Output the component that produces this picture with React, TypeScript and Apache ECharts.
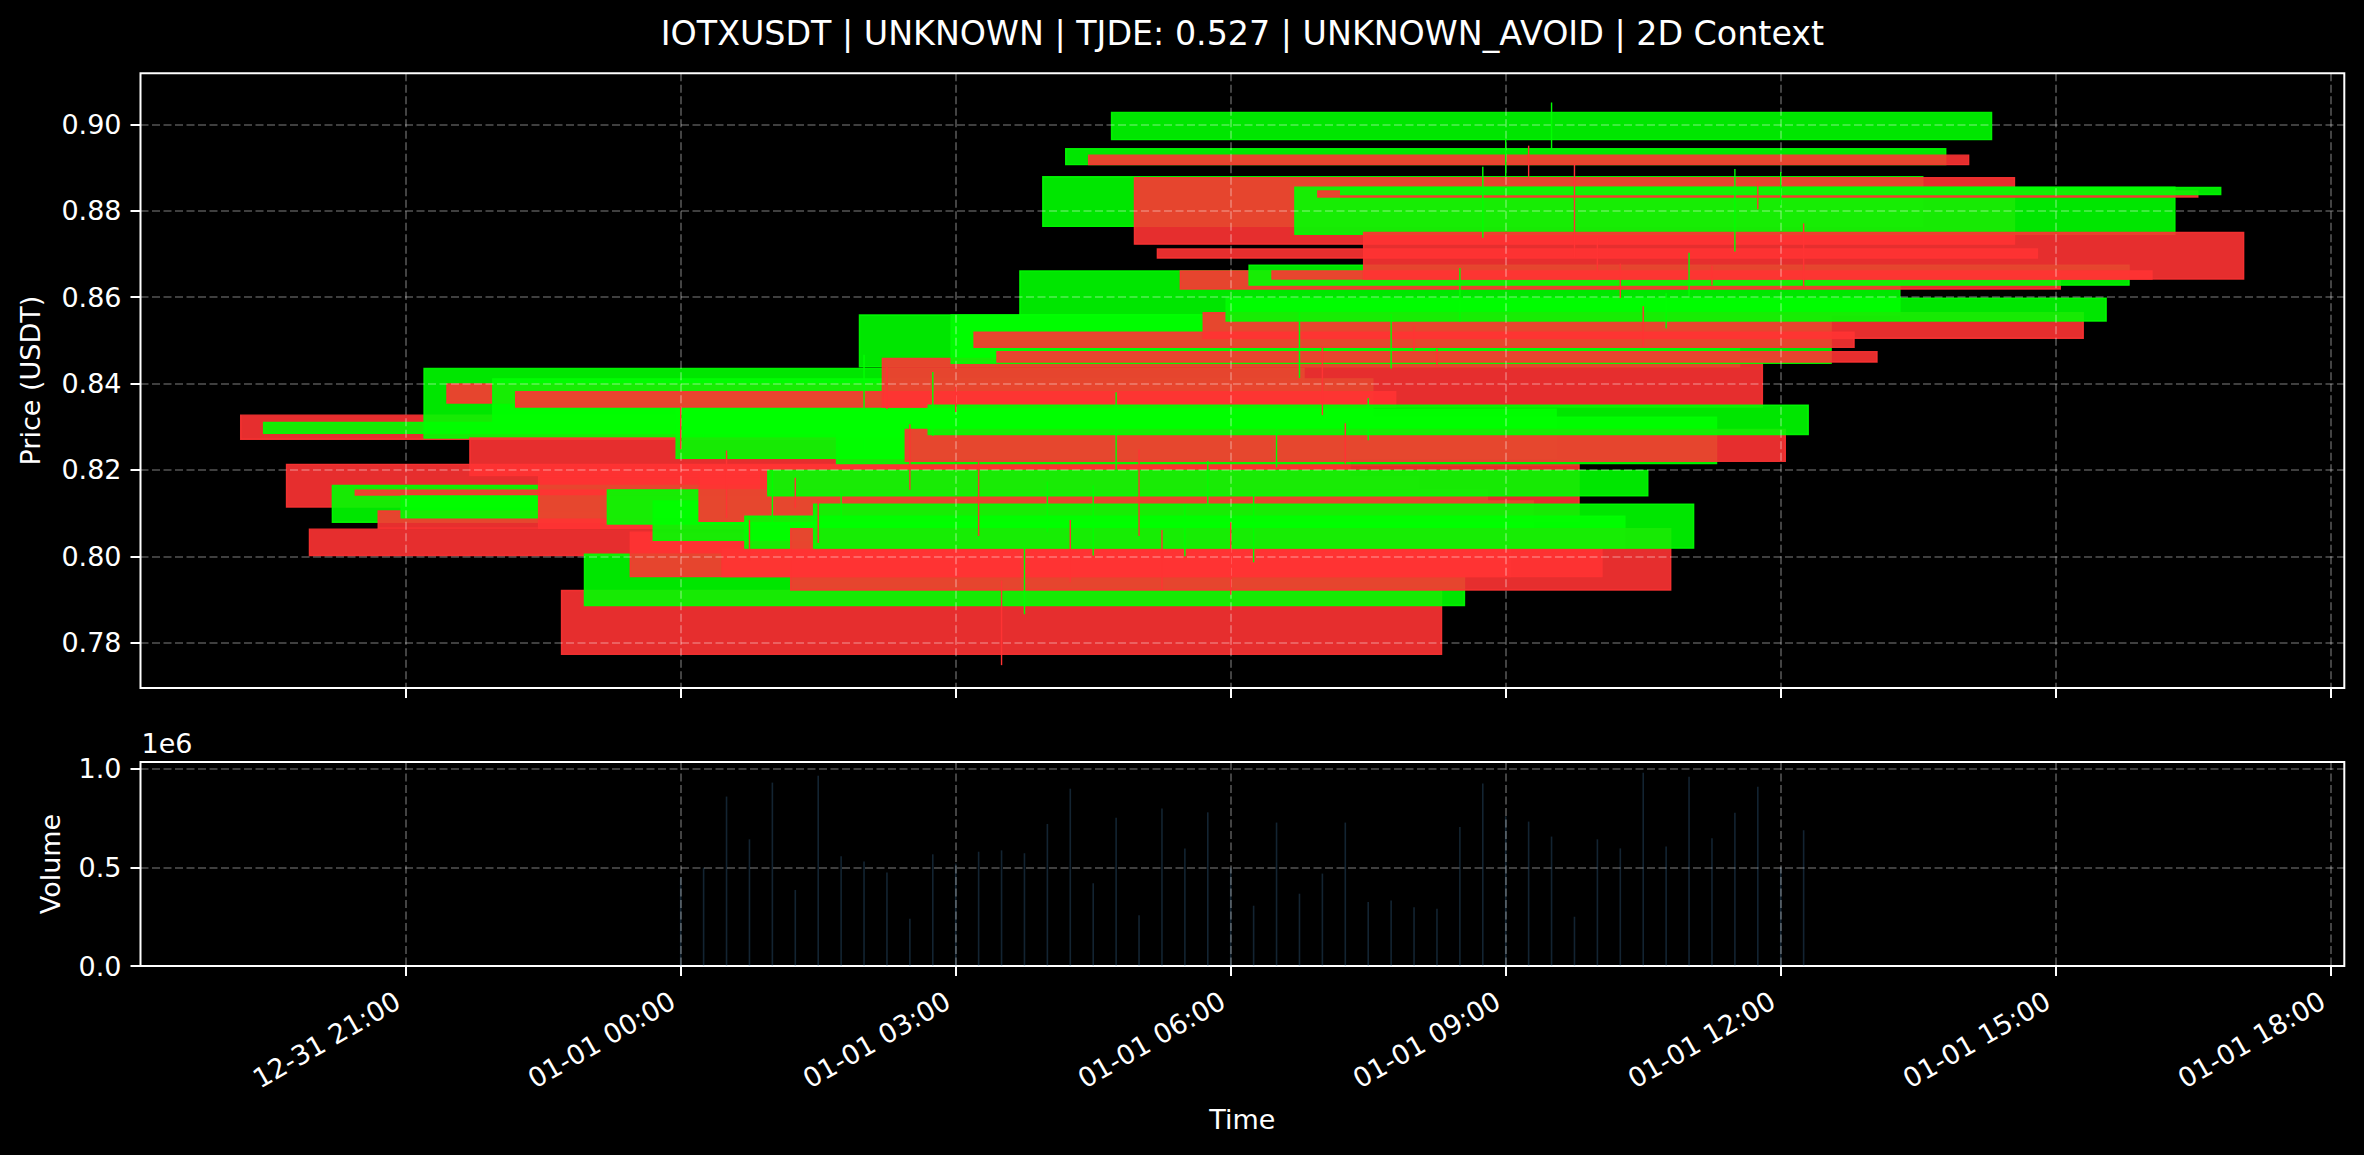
import React, { useEffect, useRef } from "react";
import * as echarts from "echarts";

const TITLE = "IOTXUSDT | UNKNOWN | TJDE: 0.527 | UNKNOWN_AVOID | 2D Context";

const TIMES = [
  "2025-01-01 00:00", "2025-01-01 00:15", "2025-01-01 00:30", "2025-01-01 00:45",
  "2025-01-01 01:00", "2025-01-01 01:15", "2025-01-01 01:30", "2025-01-01 01:45",
  "2025-01-01 02:00", "2025-01-01 02:15", "2025-01-01 02:30", "2025-01-01 02:45",
  "2025-01-01 03:00", "2025-01-01 03:15", "2025-01-01 03:30", "2025-01-01 03:45",
  "2025-01-01 04:00", "2025-01-01 04:15", "2025-01-01 04:30", "2025-01-01 04:45",
  "2025-01-01 05:00", "2025-01-01 05:15", "2025-01-01 05:30", "2025-01-01 05:45",
  "2025-01-01 06:00", "2025-01-01 06:15", "2025-01-01 06:30", "2025-01-01 06:45",
  "2025-01-01 07:00", "2025-01-01 07:15", "2025-01-01 07:30", "2025-01-01 07:45",
  "2025-01-01 08:00", "2025-01-01 08:15", "2025-01-01 08:30", "2025-01-01 08:45",
  "2025-01-01 09:00", "2025-01-01 09:15", "2025-01-01 09:30", "2025-01-01 09:45",
  "2025-01-01 10:00", "2025-01-01 10:15", "2025-01-01 10:30", "2025-01-01 10:45",
  "2025-01-01 11:00", "2025-01-01 11:15", "2025-01-01 11:30", "2025-01-01 11:45",
  "2025-01-01 12:00", "2025-01-01 12:15",
];

const OPENS = [
  0.8327, 0.8285, 0.8213, 0.8063, 0.8079, 0.8153, 0.8105, 0.8089, 0.8274, 0.8399,
  0.8274, 0.8313, 0.8381, 0.8185, 0.7921, 0.7886, 0.8075, 0.8056, 0.8037, 0.8227,
  0.8212, 0.8019, 0.8019, 0.8140, 0.8064, 0.8019, 0.8215, 0.8439, 0.8458, 0.8294,
  0.8282, 0.8447, 0.8519, 0.8474, 0.8559, 0.8764, 0.8907, 0.8929, 0.8965, 0.8877,
  0.8712, 0.8661, 0.8564, 0.8545, 0.8628, 0.8661, 0.8746, 0.8846, 0.8838, 0.8750,
];
const HIGHS = [
  0.8346, 0.8322, 0.8245, 0.8084, 0.8199, 0.8182, 0.8131, 0.8145, 0.8467, 0.8439,
  0.8306, 0.8427, 0.8393, 0.8218, 0.7944, 0.8021, 0.8173, 0.8084, 0.8164, 0.8380,
  0.8248, 0.8061, 0.8121, 0.8221, 0.8079, 0.8142, 0.8340, 0.8565, 0.8484, 0.8308,
  0.8366, 0.8561, 0.8533, 0.8481, 0.8668, 0.8902, 0.8967, 0.8951, 0.9051, 0.8907,
  0.8738, 0.8678, 0.8579, 0.8609, 0.8703, 0.8673, 0.8897, 0.8869, 0.8890, 0.8771,
];
const LOWS = [
  0.8248, 0.8276, 0.8089, 0.7990, 0.8072, 0.8112, 0.8031, 0.8082, 0.8246, 0.8341,
  0.8154, 0.8279, 0.8334, 0.8047, 0.7748, 0.7866, 0.8056, 0.7940, 0.8002, 0.8199,
  0.8047, 0.7921, 0.8000, 0.8121, 0.7911, 0.7986, 0.8206, 0.8413, 0.8327, 0.8215,
  0.8269, 0.8435, 0.8477, 0.8439, 0.8544, 0.8738, 0.8879, 0.8879, 0.8944, 0.8692,
  0.8659, 0.8598, 0.8486, 0.8528, 0.8603, 0.8628, 0.8706, 0.8804, 0.8813, 0.8626,
];
const CLOSES = [
  0.8271, 0.8310, 0.8114, 0.8002, 0.8164, 0.8142, 0.8065, 0.8140, 0.8435, 0.8355,
  0.8187, 0.8411, 0.8346, 0.8065, 0.7773, 0.8005, 0.8154, 0.7953, 0.8128, 0.8341,
  0.8081, 0.7953, 0.8093, 0.8199, 0.7922, 0.8121, 0.8322, 0.8559, 0.8346, 0.8220,
  0.8350, 0.8559, 0.8484, 0.8450, 0.8661, 0.8879, 0.8944, 0.8907, 0.9028, 0.8723,
  0.8691, 0.8619, 0.8505, 0.8598, 0.8674, 0.8642, 0.8855, 0.8832, 0.8854, 0.8642,
];
const VOLUMES = [
  450000, 499000, 860000, 643000, 931000, 386000, 966000, 557000, 530000, 474000,
  240000, 567000, 520000, 580000, 587000, 572000, 721000, 900000, 420000, 753000,
  257000, 799000, 597000, 780000, 500000, 306000, 728000, 367000, 469000, 728000,
  325000, 332000, 298000, 291000, 706000, 927000, 760000, 733000, 657000, 250000,
  643000, 597000, 981000, 606000, 961000, 648000, 778000, 910000, 500000, 689000,
];

const X_TICKS = [
  "2024-12-31 21:00", "2025-01-01 00:00", "2025-01-01 03:00", "2025-01-01 06:00",
  "2025-01-01 09:00", "2025-01-01 12:00", "2025-01-01 15:00", "2025-01-01 18:00",
];
const PRICE_TICKS = [0.78, 0.8, 0.82, 0.84, 0.86, 0.88, 0.9];
const VOLUME_TICKS = [0, 500000, 1000000];

const HOUR = 3600000;
const BODY_HALF = 4.8 * HOUR;

function toMs(s: string): number {
  const [d, t] = s.split(" ");
  const [y, m, dd] = d.split("-").map(Number);
  const [h, mi] = t.split(":").map(Number);
  return Date.UTC(y, m - 1, dd, h, mi);
}
function pad2(n: number) {
  return String(n).padStart(2, "0");
}
function fmtTime(ms: number): string {
  const d = new Date(Math.round(ms));
  return `${pad2(d.getUTCMonth() + 1)}-${pad2(d.getUTCDate())} ${pad2(d.getUTCHours())}:${pad2(d.getUTCMinutes())}`;
}

const GREEN_FILL = "rgba(0,255,0,0.9)";
const RED_FILL = "rgba(255,51,51,0.9)";
const GREEN_WICK = "#00ff00";
const RED_WICK = "#ff3333";
const FONT = "DejaVu Sans";

export default function App() {
  const ref = useRef<HTMLDivElement>(null);

  useEffect(() => {
    if (!ref.current) return;
    const chart = echarts.init(ref.current, undefined, { renderer: "svg" });

    const t0 = toMs("2025-01-01 00:00");
    const xMin = t0 - 5.893 * HOUR;
    const xMax = t0 + 18.148 * HOUR;
    const xTicks = X_TICKS.map(toMs);

    const candleData = TIMES.map((t, i) => [toMs(t), OPENS[i], CLOSES[i], LOWS[i], HIGHS[i]]);
    const volData = TIMES.map((t, i) => [toMs(t), VOLUMES[i]]);

    const gridCommon = {
      left: 140.5,
      width: 2203.8,
      show: true,
      borderColor: "#ffffff",
      borderWidth: 2,
      backgroundColor: "transparent",
      containLabel: false,
    };

    const splitLine = {
      show: true,
      lineStyle: { color: "rgba(255,255,255,0.33)", width: 1.6, type: [8, 3.5] },
    };
    const tick = (vals: number[]) => ({
      show: true,
      customValues: vals,
      length: 10,
      inside: false,
      lineStyle: { color: "#ffffff", width: 2 },
    });

    const option: any = {
      backgroundColor: "#000000",
      animation: false,
      grid: [
        { ...gridCommon, top: 73.3, height: 614.7 },
        { ...gridCommon, top: 762, height: 204 },
      ],
      xAxis: [
        {
          type: "value",
          gridIndex: 0,
          min: xMin,
          max: xMax,
          z: 3,
          axisLine: { show: false },
          axisTick: tick(xTicks),
          axisLabel: { show: false, customValues: xTicks },
          splitLine,
        },
        {
          type: "value",
          gridIndex: 1,
          min: xMin,
          max: xMax,
          z: 3,
          axisLine: { show: false },
          axisTick: tick(xTicks),
          axisLabel: {
            show: true,
            customValues: xTicks,
            rotate: 30,
            margin: 28,
            padding: [0, 9, 0, 0],
            color: "#ffffff",
            fontFamily: FONT,
            fontSize: 27,
            formatter: (v: number) => fmtTime(v),
          },
          splitLine,
        },
      ],
      yAxis: [
        {
          type: "value",
          gridIndex: 0,
          min: 0.76951,
          max: 0.91186,
          z: 3,
          axisLine: { show: false },
          axisTick: tick(PRICE_TICKS),
          axisLabel: {
            show: true,
            customValues: PRICE_TICKS,
            margin: 19,
            color: "#ffffff",
            fontFamily: FONT,
            fontSize: 27,
            formatter: (v: number) => v.toFixed(2),
          },
          splitLine,
        },
        {
          type: "value",
          gridIndex: 1,
          min: 0,
          max: 1035500,
          z: 3,
          axisLine: { show: false },
          axisTick: tick(VOLUME_TICKS),
          axisLabel: {
            show: true,
            customValues: VOLUME_TICKS,
            margin: 19,
            color: "#ffffff",
            fontFamily: FONT,
            fontSize: 27,
            formatter: (v: number) => (v / 1e6).toFixed(1),
          },
          splitLine,
        },
      ],
      series: [
        {
          type: "custom",
          name: "bodies",
          xAxisIndex: 0,
          yAxisIndex: 0,
          z: 2,
          silent: true,
          data: candleData,
          renderItem: (_p: any, api: any) => {
            const t = api.value(0);
            const o = api.value(1);
            const c = api.value(2);
            const a = api.coord([t - BODY_HALF, Math.max(o, c)]);
            const b = api.coord([t + BODY_HALF, Math.min(o, c)]);
            const col = c >= o ? GREEN_FILL : RED_FILL;
            return {
              type: "rect",
              shape: { x: a[0], y: a[1], width: b[0] - a[0], height: Math.max(b[1] - a[1], 0.5) },
              style: { fill: col, stroke: col, lineWidth: 1.4 },
            };
          },
        },
        {
          type: "custom",
          name: "wicks",
          xAxisIndex: 0,
          yAxisIndex: 0,
          z: 5,
          silent: true,
          data: candleData,
          renderItem: (_p: any, api: any) => {
            const t = api.value(0);
            const o = api.value(1);
            const c = api.value(2);
            const lo = api.coord([t, api.value(3)]);
            const hi = api.coord([t, api.value(4)]);
            return {
              type: "line",
              shape: { x1: lo[0], y1: lo[1], x2: hi[0], y2: hi[1] },
              style: { stroke: c >= o ? GREEN_WICK : RED_WICK, lineWidth: 1.4 },
            };
          },
        },
        {
          type: "custom",
          name: "volume",
          xAxisIndex: 1,
          yAxisIndex: 1,
          z: 2,
          silent: true,
          data: volData,
          renderItem: (_p: any, api: any) => {
            const t = api.value(0);
            const base = api.coord([t, 0]);
            const top = api.coord([t, api.value(1)]);
            return {
              type: "rect",
              shape: { x: base[0] - 0.8, y: top[1], width: 1.6, height: base[1] - top[1] },
              style: { fill: "rgba(70,130,180,0.28)" },
            };
          },
        },
      ],
      graphic: [
        {
          type: "text",
          x: 1242.4,
          y: 33,
          style: { text: TITLE, fill: "#ffffff", fontFamily: FONT, fontSize: 33.3, align: "center", verticalAlign: "middle" },
        },
        {
          type: "text",
          x: 30,
          y: 380.6,
          rotation: Math.PI / 2,
          style: { text: "Price (USDT)", fill: "#ffffff", fontFamily: FONT, fontSize: 27, align: "center", verticalAlign: "middle" },
        },
        {
          type: "text",
          x: 50,
          y: 864,
          rotation: Math.PI / 2,
          style: { text: "Volume", fill: "#ffffff", fontFamily: FONT, fontSize: 27, align: "center", verticalAlign: "middle" },
        },
        {
          type: "text",
          x: 1242.4,
          y: 1119,
          style: { text: "Time", fill: "#ffffff", fontFamily: FONT, fontSize: 27, align: "center", verticalAlign: "middle" },
        },
        {
          type: "text",
          x: 141.5,
          y: 743,
          style: { text: "1e6", fill: "#ffffff", fontFamily: FONT, fontSize: 27, align: "left", verticalAlign: "middle" },
        },
      ],
    };

    chart.setOption(option);
    return () => chart.dispose();
  }, []);

  return (
    <div
      ref={ref}
      style={{ position: "fixed", left: 0, top: 0, width: "2364px", height: "1155px", background: "#000" }}
    />
  );
}
